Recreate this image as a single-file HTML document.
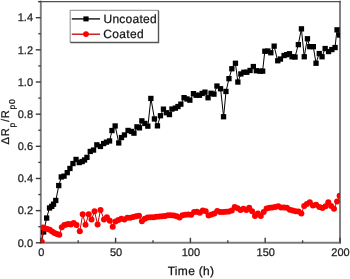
<!DOCTYPE html>
<html><head><meta charset="utf-8"><style>
html,body{margin:0;padding:0;background:#fff;}
svg{display:block;font-family:"Liberation Sans", sans-serif;-webkit-font-smoothing:antialiased;}
text{text-rendering:geometricPrecision;stroke:#222;stroke-width:0.25px;}
</style></head><body>
<svg style="will-change:transform" width="350" height="279" viewBox="0 0 350 279">
<defs><clipPath id="pa"><rect x="40.8" y="1.5999999999999943" width="299.2" height="241.20000000000002"/></clipPath></defs>
<line x1="40.8" y1="0.6999999999999943" x2="40.8" y2="243.70000000000002" stroke="#7c7c7c" stroke-width="1.9"/>
<line x1="340.0" y1="0.6999999999999943" x2="340.0" y2="243.70000000000002" stroke="#7c7c7c" stroke-width="1.9"/>
<line x1="39.9" y1="242.8" x2="340.9" y2="242.8" stroke="#7c7c7c" stroke-width="1.9"/>
<line x1="38.3" y1="1.5999999999999943" x2="340.9" y2="1.5999999999999943" stroke="#505050" stroke-width="1.2"/>
<line x1="35.8" y1="242.8" x2="40.8" y2="242.8" stroke="#3a3a3a" stroke-width="1.4"/>
<text x="33" y="246.60000000000002" text-anchor="end" font-size="11" fill="#1a1a1a">0.0</text>
<line x1="38.3" y1="226.72" x2="40.8" y2="226.72" stroke="#3a3a3a" stroke-width="1.3"/>
<line x1="35.8" y1="210.64000000000001" x2="40.8" y2="210.64000000000001" stroke="#3a3a3a" stroke-width="1.4"/>
<text x="33" y="214.44000000000003" text-anchor="end" font-size="11" fill="#1a1a1a">0.2</text>
<line x1="38.3" y1="194.56" x2="40.8" y2="194.56" stroke="#3a3a3a" stroke-width="1.3"/>
<line x1="35.8" y1="178.48000000000002" x2="40.8" y2="178.48000000000002" stroke="#3a3a3a" stroke-width="1.4"/>
<text x="33" y="182.28000000000003" text-anchor="end" font-size="11" fill="#1a1a1a">0.4</text>
<line x1="38.3" y1="162.4" x2="40.8" y2="162.4" stroke="#3a3a3a" stroke-width="1.3"/>
<line x1="35.8" y1="146.32" x2="40.8" y2="146.32" stroke="#3a3a3a" stroke-width="1.4"/>
<text x="33" y="150.12" text-anchor="end" font-size="11" fill="#1a1a1a">0.6</text>
<line x1="38.3" y1="130.24" x2="40.8" y2="130.24" stroke="#3a3a3a" stroke-width="1.3"/>
<line x1="35.8" y1="114.16" x2="40.8" y2="114.16" stroke="#3a3a3a" stroke-width="1.4"/>
<text x="33" y="117.96" text-anchor="end" font-size="11" fill="#1a1a1a">0.8</text>
<line x1="38.3" y1="98.07999999999998" x2="40.8" y2="98.07999999999998" stroke="#3a3a3a" stroke-width="1.3"/>
<line x1="35.8" y1="82.0" x2="40.8" y2="82.0" stroke="#3a3a3a" stroke-width="1.4"/>
<text x="33" y="85.8" text-anchor="end" font-size="11" fill="#1a1a1a">1.0</text>
<line x1="38.3" y1="65.91999999999999" x2="40.8" y2="65.91999999999999" stroke="#3a3a3a" stroke-width="1.3"/>
<line x1="35.8" y1="49.839999999999975" x2="40.8" y2="49.839999999999975" stroke="#3a3a3a" stroke-width="1.4"/>
<text x="33" y="53.63999999999997" text-anchor="end" font-size="11" fill="#1a1a1a">1.2</text>
<line x1="38.3" y1="33.75999999999999" x2="40.8" y2="33.75999999999999" stroke="#3a3a3a" stroke-width="1.3"/>
<line x1="35.8" y1="17.67999999999998" x2="40.8" y2="17.67999999999998" stroke="#3a3a3a" stroke-width="1.4"/>
<text x="33" y="21.47999999999998" text-anchor="end" font-size="11" fill="#1a1a1a">1.4</text>
<line x1="38.3" y1="1.5999999999999943" x2="40.8" y2="1.5999999999999943" stroke="#3a3a3a" stroke-width="1.3"/>
<line x1="40.8" y1="242.8" x2="40.8" y2="237.8" stroke="#3a3a3a" stroke-width="1.4"/>
<text x="41.3" y="256" text-anchor="middle" font-size="11" fill="#1a1a1a">0</text>
<line x1="78.19999999999999" y1="242.8" x2="78.19999999999999" y2="240.3" stroke="#3a3a3a" stroke-width="1.3"/>
<line x1="115.6" y1="242.8" x2="115.6" y2="237.8" stroke="#3a3a3a" stroke-width="1.4"/>
<text x="116.1" y="256" text-anchor="middle" font-size="11" fill="#1a1a1a">50</text>
<line x1="153.0" y1="242.8" x2="153.0" y2="240.3" stroke="#3a3a3a" stroke-width="1.3"/>
<line x1="190.39999999999998" y1="242.8" x2="190.39999999999998" y2="237.8" stroke="#3a3a3a" stroke-width="1.4"/>
<text x="190.89999999999998" y="256" text-anchor="middle" font-size="11" fill="#1a1a1a">100</text>
<line x1="227.8" y1="242.8" x2="227.8" y2="240.3" stroke="#3a3a3a" stroke-width="1.3"/>
<line x1="265.2" y1="242.8" x2="265.2" y2="237.8" stroke="#3a3a3a" stroke-width="1.4"/>
<text x="265.7" y="256" text-anchor="middle" font-size="11" fill="#1a1a1a">150</text>
<line x1="302.6" y1="242.8" x2="302.6" y2="240.3" stroke="#3a3a3a" stroke-width="1.3"/>
<line x1="340.0" y1="242.8" x2="340.0" y2="237.8" stroke="#3a3a3a" stroke-width="1.4"/>
<text x="340.5" y="256" text-anchor="middle" font-size="11" fill="#1a1a1a">200</text>
<g clip-path="url(#pa)">
<polyline points="41.3,242.5 43.6,232.0 46.6,218.1 49.5,208.0 51.7,206.3 53.5,204.2 55.8,200.4 58.8,185.6 61.3,177.0 64.1,176.2 67.3,172.7 70.0,168.5 73.0,163.6 76.1,159.4 79.3,162.6 82.2,161.6 84.6,160.0 87.0,157.3 90.3,151.5 93.6,150.1 96.9,144.8 100.4,146.5 103.7,143.6 106.5,142.2 109.6,141.0 112.0,130.6 115.2,126.0 118.8,143.0 121.4,137.6 124.5,135.0 128.1,130.5 131.3,131.4 134.0,133.2 137.0,126.9 139.4,127.9 141.9,120.9 144.8,123.5 147.9,126.2 150.9,98.4 154.5,119.0 157.4,125.9 160.4,115.8 163.4,109.2 166.3,112.8 169.4,114.6 172.0,109.1 175.3,108.2 178.0,106.6 180.9,104.2 184.1,97.7 187.0,99.0 189.8,100.2 193.5,93.7 196.2,95.3 199.5,95.3 202.2,93.5 205.0,92.2 208.1,97.8 211.1,93.3 214.0,94.2 217.0,86.1 220.6,88.8 223.6,116.8 226.0,91.5 229.0,78.7 231.8,68.8 235.4,63.3 237.9,82.1 240.8,74.0 243.8,72.3 246.9,72.3 250.1,70.5 253.3,66.5 256.4,70.8 260.0,71.2 262.6,71.2 264.8,51.3 267.9,51.0 270.9,52.8 274.1,46.1 277.7,60.8 280.4,59.0 284.0,55.5 286.7,54.6 289.4,53.7 292.0,56.7 295.0,57.0 298.3,44.6 301.4,28.8 304.2,56.8 307.4,38.7 309.7,46.6 313.3,46.6 316.0,63.3 319.2,53.5 322.0,56.8 325.1,48.5 328.5,51.5 331.8,49.5 335.0,47.5 337.0,29.8 339.5,35.0" fill="none" stroke="#000" stroke-width="1"/>
<rect x="38.6" y="239.8" width="5.3" height="5.3" fill="#000"/>
<rect x="41.0" y="229.3" width="5.3" height="5.3" fill="#000"/>
<rect x="44.0" y="215.4" width="5.3" height="5.3" fill="#000"/>
<rect x="46.9" y="205.3" width="5.3" height="5.3" fill="#000"/>
<rect x="49.1" y="203.7" width="5.3" height="5.3" fill="#000"/>
<rect x="50.9" y="201.5" width="5.3" height="5.3" fill="#000"/>
<rect x="53.1" y="197.8" width="5.3" height="5.3" fill="#000"/>
<rect x="56.1" y="182.9" width="5.3" height="5.3" fill="#000"/>
<rect x="58.6" y="174.3" width="5.3" height="5.3" fill="#000"/>
<rect x="61.4" y="173.5" width="5.3" height="5.3" fill="#000"/>
<rect x="64.6" y="170.0" width="5.3" height="5.3" fill="#000"/>
<rect x="67.3" y="165.8" width="5.3" height="5.3" fill="#000"/>
<rect x="70.3" y="160.9" width="5.3" height="5.3" fill="#000"/>
<rect x="73.4" y="156.8" width="5.3" height="5.3" fill="#000"/>
<rect x="76.6" y="159.9" width="5.3" height="5.3" fill="#000"/>
<rect x="79.5" y="158.9" width="5.3" height="5.3" fill="#000"/>
<rect x="81.9" y="157.3" width="5.3" height="5.3" fill="#000"/>
<rect x="84.3" y="154.7" width="5.3" height="5.3" fill="#000"/>
<rect x="87.6" y="148.8" width="5.3" height="5.3" fill="#000"/>
<rect x="90.9" y="147.4" width="5.3" height="5.3" fill="#000"/>
<rect x="94.2" y="142.2" width="5.3" height="5.3" fill="#000"/>
<rect x="97.8" y="143.8" width="5.3" height="5.3" fill="#000"/>
<rect x="101.0" y="140.9" width="5.3" height="5.3" fill="#000"/>
<rect x="103.8" y="139.5" width="5.3" height="5.3" fill="#000"/>
<rect x="106.9" y="138.3" width="5.3" height="5.3" fill="#000"/>
<rect x="109.3" y="127.9" width="5.3" height="5.3" fill="#000"/>
<rect x="112.5" y="123.3" width="5.3" height="5.3" fill="#000"/>
<rect x="116.1" y="140.3" width="5.3" height="5.3" fill="#000"/>
<rect x="118.8" y="134.9" width="5.3" height="5.3" fill="#000"/>
<rect x="121.8" y="132.3" width="5.3" height="5.3" fill="#000"/>
<rect x="125.4" y="127.8" width="5.3" height="5.3" fill="#000"/>
<rect x="128.7" y="128.8" width="5.3" height="5.3" fill="#000"/>
<rect x="131.3" y="130.5" width="5.3" height="5.3" fill="#000"/>
<rect x="134.3" y="124.2" width="5.3" height="5.3" fill="#000"/>
<rect x="136.8" y="125.2" width="5.3" height="5.3" fill="#000"/>
<rect x="139.2" y="118.2" width="5.3" height="5.3" fill="#000"/>
<rect x="142.2" y="120.8" width="5.3" height="5.3" fill="#000"/>
<rect x="145.2" y="123.5" width="5.3" height="5.3" fill="#000"/>
<rect x="148.2" y="95.8" width="5.3" height="5.3" fill="#000"/>
<rect x="151.8" y="116.3" width="5.3" height="5.3" fill="#000"/>
<rect x="154.8" y="123.2" width="5.3" height="5.3" fill="#000"/>
<rect x="157.8" y="113.1" width="5.3" height="5.3" fill="#000"/>
<rect x="160.8" y="106.5" width="5.3" height="5.3" fill="#000"/>
<rect x="163.7" y="110.1" width="5.3" height="5.3" fill="#000"/>
<rect x="166.8" y="111.9" width="5.3" height="5.3" fill="#000"/>
<rect x="169.3" y="106.4" width="5.3" height="5.3" fill="#000"/>
<rect x="172.7" y="105.5" width="5.3" height="5.3" fill="#000"/>
<rect x="175.3" y="103.9" width="5.3" height="5.3" fill="#000"/>
<rect x="178.2" y="101.5" width="5.3" height="5.3" fill="#000"/>
<rect x="181.4" y="95.0" width="5.3" height="5.3" fill="#000"/>
<rect x="184.3" y="96.3" width="5.3" height="5.3" fill="#000"/>
<rect x="187.2" y="97.5" width="5.3" height="5.3" fill="#000"/>
<rect x="190.8" y="91.0" width="5.3" height="5.3" fill="#000"/>
<rect x="193.5" y="92.6" width="5.3" height="5.3" fill="#000"/>
<rect x="196.8" y="92.6" width="5.3" height="5.3" fill="#000"/>
<rect x="199.5" y="90.8" width="5.3" height="5.3" fill="#000"/>
<rect x="202.3" y="89.5" width="5.3" height="5.3" fill="#000"/>
<rect x="205.4" y="95.1" width="5.3" height="5.3" fill="#000"/>
<rect x="208.4" y="90.6" width="5.3" height="5.3" fill="#000"/>
<rect x="211.3" y="91.5" width="5.3" height="5.3" fill="#000"/>
<rect x="214.3" y="83.4" width="5.3" height="5.3" fill="#000"/>
<rect x="217.9" y="86.1" width="5.3" height="5.3" fill="#000"/>
<rect x="220.9" y="114.1" width="5.3" height="5.3" fill="#000"/>
<rect x="223.3" y="88.8" width="5.3" height="5.3" fill="#000"/>
<rect x="226.3" y="76.0" width="5.3" height="5.3" fill="#000"/>
<rect x="229.2" y="66.1" width="5.3" height="5.3" fill="#000"/>
<rect x="232.8" y="60.6" width="5.3" height="5.3" fill="#000"/>
<rect x="235.2" y="79.4" width="5.3" height="5.3" fill="#000"/>
<rect x="238.2" y="71.3" width="5.3" height="5.3" fill="#000"/>
<rect x="241.2" y="69.6" width="5.3" height="5.3" fill="#000"/>
<rect x="244.2" y="69.6" width="5.3" height="5.3" fill="#000"/>
<rect x="247.4" y="67.8" width="5.3" height="5.3" fill="#000"/>
<rect x="250.7" y="63.9" width="5.3" height="5.3" fill="#000"/>
<rect x="253.7" y="68.1" width="5.3" height="5.3" fill="#000"/>
<rect x="257.4" y="68.5" width="5.3" height="5.3" fill="#000"/>
<rect x="260.0" y="68.5" width="5.3" height="5.3" fill="#000"/>
<rect x="262.2" y="48.6" width="5.3" height="5.3" fill="#000"/>
<rect x="265.2" y="48.4" width="5.3" height="5.3" fill="#000"/>
<rect x="268.2" y="50.1" width="5.3" height="5.3" fill="#000"/>
<rect x="271.5" y="43.5" width="5.3" height="5.3" fill="#000"/>
<rect x="275.1" y="58.1" width="5.3" height="5.3" fill="#000"/>
<rect x="277.8" y="56.4" width="5.3" height="5.3" fill="#000"/>
<rect x="281.4" y="52.9" width="5.3" height="5.3" fill="#000"/>
<rect x="284.1" y="52.0" width="5.3" height="5.3" fill="#000"/>
<rect x="286.8" y="51.1" width="5.3" height="5.3" fill="#000"/>
<rect x="289.4" y="54.1" width="5.3" height="5.3" fill="#000"/>
<rect x="292.4" y="54.4" width="5.3" height="5.3" fill="#000"/>
<rect x="295.7" y="42.0" width="5.3" height="5.3" fill="#000"/>
<rect x="298.8" y="26.2" width="5.3" height="5.3" fill="#000"/>
<rect x="301.6" y="54.1" width="5.3" height="5.3" fill="#000"/>
<rect x="304.8" y="36.1" width="5.3" height="5.3" fill="#000"/>
<rect x="307.1" y="44.0" width="5.3" height="5.3" fill="#000"/>
<rect x="310.7" y="44.0" width="5.3" height="5.3" fill="#000"/>
<rect x="313.4" y="60.6" width="5.3" height="5.3" fill="#000"/>
<rect x="316.6" y="50.9" width="5.3" height="5.3" fill="#000"/>
<rect x="319.4" y="54.1" width="5.3" height="5.3" fill="#000"/>
<rect x="322.5" y="45.9" width="5.3" height="5.3" fill="#000"/>
<rect x="325.9" y="48.9" width="5.3" height="5.3" fill="#000"/>
<rect x="329.2" y="46.9" width="5.3" height="5.3" fill="#000"/>
<rect x="332.4" y="44.9" width="5.3" height="5.3" fill="#000"/>
<rect x="334.4" y="27.2" width="5.3" height="5.3" fill="#000"/>
<rect x="336.9" y="32.4" width="5.3" height="5.3" fill="#000"/>
<polyline points="41.8,242.0 43.0,227.6 44.8,228.2 47.3,229.0 49.7,229.8 52.1,231.5 54.5,233.0 56.9,233.9 59.3,234.8 61.8,227.2 64.3,225.1 66.5,224.4 68.6,224.1 70.8,224.4 73.6,222.9 76.5,225.1 79.8,231.3 82.7,214.3 85.5,224.7 88.7,214.3 91.5,219.6 94.5,211.3 97.6,224.5 100.5,210.0 104.0,219.4 106.9,217.2 109.8,220.8 112.7,226.8 115.5,221.5 118.4,220.1 121.3,218.7 124.4,219.4 127.4,217.8 130.3,217.8 133.2,217.0 136.1,216.3 139.0,215.8 141.9,221.3 144.8,218.7 147.7,217.6 150.6,217.3 153.5,217.2 156.4,216.8 159.3,216.5 162.2,216.2 165.1,215.9 168.0,215.3 170.9,215.2 173.8,215.5 176.7,216.2 179.6,217.4 182.5,215.2 185.4,214.8 188.3,214.6 191.2,214.8 194.1,211.9 197.0,211.7 199.9,212.7 202.8,210.5 205.7,211.3 208.6,215.4 211.5,214.4 214.4,213.4 217.3,211.1 220.2,212.0 223.1,211.9 226.0,211.7 228.9,211.4 231.8,210.6 234.7,207.0 237.6,208.3 240.5,209.9 243.4,208.7 246.3,209.9 249.2,207.8 252.1,211.3 255.0,216.1 257.9,213.6 260.8,216.1 263.7,212.1 266.6,208.6 269.5,207.7 272.4,207.6 275.3,207.0 278.2,206.2 281.1,207.5 284.0,207.6 286.9,207.7 289.8,209.7 292.7,210.5 295.6,211.2 298.5,211.6 301.4,213.4 304.2,206.1 306.9,203.9 309.8,202.3 312.9,205.5 316.1,204.7 319.3,207.1 322.5,207.9 325.5,206.3 328.3,202.3 331.1,206.0 334.0,208.7 337.1,201.5 339.6,195.8" fill="none" stroke="#c00" stroke-width="1"/>
<circle cx="41.8" cy="242.0" r="3.0" fill="#f00"/>
<circle cx="43.0" cy="227.6" r="3.0" fill="#f00"/>
<circle cx="44.8" cy="228.2" r="3.0" fill="#f00"/>
<circle cx="47.3" cy="229.0" r="3.0" fill="#f00"/>
<circle cx="49.7" cy="229.8" r="3.0" fill="#f00"/>
<circle cx="52.1" cy="231.5" r="3.0" fill="#f00"/>
<circle cx="54.5" cy="233.0" r="3.0" fill="#f00"/>
<circle cx="56.9" cy="233.9" r="3.0" fill="#f00"/>
<circle cx="59.3" cy="234.8" r="3.0" fill="#f00"/>
<circle cx="61.8" cy="227.2" r="3.0" fill="#f00"/>
<circle cx="64.3" cy="225.1" r="3.0" fill="#f00"/>
<circle cx="66.5" cy="224.4" r="3.0" fill="#f00"/>
<circle cx="68.6" cy="224.1" r="3.0" fill="#f00"/>
<circle cx="70.8" cy="224.4" r="3.0" fill="#f00"/>
<circle cx="73.6" cy="222.9" r="3.0" fill="#f00"/>
<circle cx="76.5" cy="225.1" r="3.0" fill="#f00"/>
<circle cx="79.8" cy="231.3" r="3.0" fill="#f00"/>
<circle cx="82.7" cy="214.3" r="3.0" fill="#f00"/>
<circle cx="85.5" cy="224.7" r="3.0" fill="#f00"/>
<circle cx="88.7" cy="214.3" r="3.0" fill="#f00"/>
<circle cx="91.5" cy="219.6" r="3.0" fill="#f00"/>
<circle cx="94.5" cy="211.3" r="3.0" fill="#f00"/>
<circle cx="97.6" cy="224.5" r="3.0" fill="#f00"/>
<circle cx="100.5" cy="210.0" r="3.0" fill="#f00"/>
<circle cx="104.0" cy="219.4" r="3.0" fill="#f00"/>
<circle cx="106.9" cy="217.2" r="3.0" fill="#f00"/>
<circle cx="109.8" cy="220.8" r="3.0" fill="#f00"/>
<circle cx="112.7" cy="226.8" r="3.0" fill="#f00"/>
<circle cx="115.5" cy="221.5" r="3.0" fill="#f00"/>
<circle cx="118.4" cy="220.1" r="3.0" fill="#f00"/>
<circle cx="121.3" cy="218.7" r="3.0" fill="#f00"/>
<circle cx="124.4" cy="219.4" r="3.0" fill="#f00"/>
<circle cx="127.4" cy="217.8" r="3.0" fill="#f00"/>
<circle cx="130.3" cy="217.8" r="3.0" fill="#f00"/>
<circle cx="133.2" cy="217.0" r="3.0" fill="#f00"/>
<circle cx="136.1" cy="216.3" r="3.0" fill="#f00"/>
<circle cx="139.0" cy="215.8" r="3.0" fill="#f00"/>
<circle cx="141.9" cy="221.3" r="3.0" fill="#f00"/>
<circle cx="144.8" cy="218.7" r="3.0" fill="#f00"/>
<circle cx="147.7" cy="217.6" r="3.0" fill="#f00"/>
<circle cx="150.6" cy="217.3" r="3.0" fill="#f00"/>
<circle cx="153.5" cy="217.2" r="3.0" fill="#f00"/>
<circle cx="156.4" cy="216.8" r="3.0" fill="#f00"/>
<circle cx="159.3" cy="216.5" r="3.0" fill="#f00"/>
<circle cx="162.2" cy="216.2" r="3.0" fill="#f00"/>
<circle cx="165.1" cy="215.9" r="3.0" fill="#f00"/>
<circle cx="168.0" cy="215.3" r="3.0" fill="#f00"/>
<circle cx="170.9" cy="215.2" r="3.0" fill="#f00"/>
<circle cx="173.8" cy="215.5" r="3.0" fill="#f00"/>
<circle cx="176.7" cy="216.2" r="3.0" fill="#f00"/>
<circle cx="179.6" cy="217.4" r="3.0" fill="#f00"/>
<circle cx="182.5" cy="215.2" r="3.0" fill="#f00"/>
<circle cx="185.4" cy="214.8" r="3.0" fill="#f00"/>
<circle cx="188.3" cy="214.6" r="3.0" fill="#f00"/>
<circle cx="191.2" cy="214.8" r="3.0" fill="#f00"/>
<circle cx="194.1" cy="211.9" r="3.0" fill="#f00"/>
<circle cx="197.0" cy="211.7" r="3.0" fill="#f00"/>
<circle cx="199.9" cy="212.7" r="3.0" fill="#f00"/>
<circle cx="202.8" cy="210.5" r="3.0" fill="#f00"/>
<circle cx="205.7" cy="211.3" r="3.0" fill="#f00"/>
<circle cx="208.6" cy="215.4" r="3.0" fill="#f00"/>
<circle cx="211.5" cy="214.4" r="3.0" fill="#f00"/>
<circle cx="214.4" cy="213.4" r="3.0" fill="#f00"/>
<circle cx="217.3" cy="211.1" r="3.0" fill="#f00"/>
<circle cx="220.2" cy="212.0" r="3.0" fill="#f00"/>
<circle cx="223.1" cy="211.9" r="3.0" fill="#f00"/>
<circle cx="226.0" cy="211.7" r="3.0" fill="#f00"/>
<circle cx="228.9" cy="211.4" r="3.0" fill="#f00"/>
<circle cx="231.8" cy="210.6" r="3.0" fill="#f00"/>
<circle cx="234.7" cy="207.0" r="3.0" fill="#f00"/>
<circle cx="237.6" cy="208.3" r="3.0" fill="#f00"/>
<circle cx="240.5" cy="209.9" r="3.0" fill="#f00"/>
<circle cx="243.4" cy="208.7" r="3.0" fill="#f00"/>
<circle cx="246.3" cy="209.9" r="3.0" fill="#f00"/>
<circle cx="249.2" cy="207.8" r="3.0" fill="#f00"/>
<circle cx="252.1" cy="211.3" r="3.0" fill="#f00"/>
<circle cx="255.0" cy="216.1" r="3.0" fill="#f00"/>
<circle cx="257.9" cy="213.6" r="3.0" fill="#f00"/>
<circle cx="260.8" cy="216.1" r="3.0" fill="#f00"/>
<circle cx="263.7" cy="212.1" r="3.0" fill="#f00"/>
<circle cx="266.6" cy="208.6" r="3.0" fill="#f00"/>
<circle cx="269.5" cy="207.7" r="3.0" fill="#f00"/>
<circle cx="272.4" cy="207.6" r="3.0" fill="#f00"/>
<circle cx="275.3" cy="207.0" r="3.0" fill="#f00"/>
<circle cx="278.2" cy="206.2" r="3.0" fill="#f00"/>
<circle cx="281.1" cy="207.5" r="3.0" fill="#f00"/>
<circle cx="284.0" cy="207.6" r="3.0" fill="#f00"/>
<circle cx="286.9" cy="207.7" r="3.0" fill="#f00"/>
<circle cx="289.8" cy="209.7" r="3.0" fill="#f00"/>
<circle cx="292.7" cy="210.5" r="3.0" fill="#f00"/>
<circle cx="295.6" cy="211.2" r="3.0" fill="#f00"/>
<circle cx="298.5" cy="211.6" r="3.0" fill="#f00"/>
<circle cx="301.4" cy="213.4" r="3.0" fill="#f00"/>
<circle cx="304.2" cy="206.1" r="3.0" fill="#f00"/>
<circle cx="306.9" cy="203.9" r="3.0" fill="#f00"/>
<circle cx="309.8" cy="202.3" r="3.0" fill="#f00"/>
<circle cx="312.9" cy="205.5" r="3.0" fill="#f00"/>
<circle cx="316.1" cy="204.7" r="3.0" fill="#f00"/>
<circle cx="319.3" cy="207.1" r="3.0" fill="#f00"/>
<circle cx="322.5" cy="207.9" r="3.0" fill="#f00"/>
<circle cx="325.5" cy="206.3" r="3.0" fill="#f00"/>
<circle cx="328.3" cy="202.3" r="3.0" fill="#f00"/>
<circle cx="331.1" cy="206.0" r="3.0" fill="#f00"/>
<circle cx="334.0" cy="208.7" r="3.0" fill="#f00"/>
<circle cx="337.1" cy="201.5" r="3.0" fill="#f00"/>
<circle cx="339.6" cy="195.8" r="3.0" fill="#f00"/>
</g>
<rect x="70.2" y="10.4" width="88.3" height="32.1" fill="#fff"/>
<path d="M70.2,42.5 V10.4 H158.5" fill="none" stroke="#a0a0a0" stroke-width="1.2"/>
<path d="M70.2,42.5 H158.5 V10.4" fill="none" stroke="#555" stroke-width="1.4"/>
<line x1="71.8" y1="18.9" x2="100" y2="18.9" stroke="#000" stroke-width="1.3"/>
<rect x="83.4" y="16.4" width="5.2" height="5" fill="#000"/>
<line x1="71.8" y1="34.2" x2="100" y2="34.2" stroke="#c00000" stroke-width="1.3"/>
<circle cx="86" cy="34.1" r="2.9" fill="#f00"/>
<text x="103.5" y="22.8" font-size="12" letter-spacing="0.25" fill="#111">Uncoated</text>
<text x="103.3" y="37.5" font-size="12" letter-spacing="0.35" fill="#111">Coated</text>
<text x="191" y="275.4" text-anchor="middle" font-size="12" letter-spacing="0.3" fill="#111">Time (h)</text>
<text transform="translate(9.3,121.5) rotate(-90)" text-anchor="middle" font-size="11.2" letter-spacing="0.7" fill="#111">&#916;R<tspan font-size="8.5" dy="5.6">p</tspan><tspan dy="-5.6">/R</tspan><tspan font-size="8.5" dy="5.6">p0</tspan></text>
</svg>
</body></html>
